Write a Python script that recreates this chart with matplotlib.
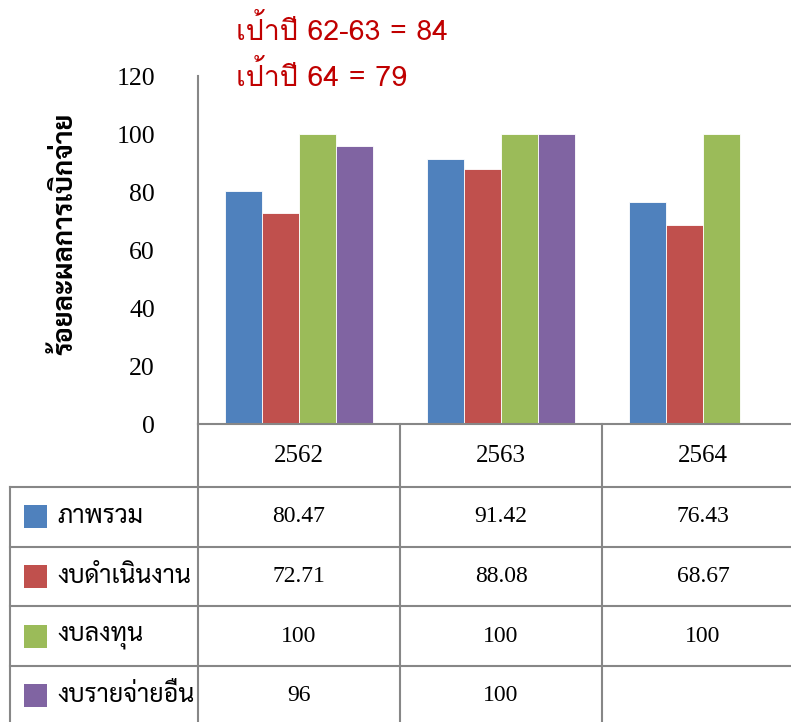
import matplotlib
matplotlib.use("Agg")
import matplotlib.pyplot as plt
from matplotlib import font_manager, ft2font
from matplotlib.patches import Rectangle
import numpy as np

# ข้อมูล
ปี = ["2562", "2563", "2564"]
ชุดข้อมูล = ["ภาพรวม", "งบดำเนินงาน", "งบลงทุน", "งบรายจ่ายอื่น"]
ภาพรวม = [80.47, 91.42, 76.43]
งบดำเนินงาน = [72.71, 88.08, 68.67]
งบลงทุน = [100, 100, 100]
งบรายจ่ายอื่น = [96, 100, None]
สี = ["#4F81BD", "#C0504D", "#9BBB59", "#8064A2"]
ค่าแกนY = [0, 20, 40, 60, 80, 100, 120]
ข้อความเป้า = ["เป้าปี 62-63 = 84", "เป้าปี 64 = 79"]
ชื่อแกนY = "ร้อยละผลการเบิกจ่าย"

ค่าทั้งหมด = [ภาพรวม, งบดำเนินงาน, งบลงทุน, งบรายจ่ายอื่น]


# หาฟอนต์ที่มีอักษรไทย
def มีภาษาไทย(path):
    try:
        return 0x0E01 in ft2font.FT2Font(path).get_charmap()
    except Exception:
        return False


ฟอนต์ไทย = set()
for p in font_manager.findSystemFonts():
    if มีภาษาไทย(p):
        try:
            font_manager.fontManager.addfont(p)
            ฟอนต์ไทย.add(font_manager.FontProperties(fname=p).get_name())
        except Exception:
            pass


def เลือก(ลำดับ):
    for f in ลำดับ:
        if f in ฟอนต์ไทย:
            return f
    return sorted(ฟอนต์ไทย)[0] if ฟอนต์ไทย else "DejaVu Sans"


ไทยเซอริฟ = เลือก(["Norasi", "Kinnari", "TH Sarabun New", "Laksaman", "Sarabun"])
ไทยซานส์ = เลือก(["Waree", "Loma", "Tahoma", "Garuda", "IBM Plex Sans Thai"])

W, H = 791, 722
fig = plt.figure(figsize=(W / 100, H / 100), dpi=100)

# แกนกราฟแท่ง (พิกัดพิกเซล: ซ้าย 198, บน 76, ล่าง 424)
ax_left, ax_top, ax_bot = 198, 76, 424
ax_h = ax_bot - ax_top
col_w = 202
ax = fig.add_axes([ax_left / W, 1 - ax_bot / H, (W - ax_left) / W, ax_h / H])
ax.set_xlim(-0.5, -0.5 + (W - ax_left) / col_w)
ax.set_ylim(0, 120)

x = np.arange(len(ปี))
bw = 0.183
for i, vals in enumerate(ค่าทั้งหมด):
    for j, v in enumerate(vals):
        if v is None:
            continue
        ax.bar(x[j] + (i - 1.5) * bw, v, width=bw, color=สี[i],
               edgecolor="white", linewidth=0.6, zorder=2)

เทา = "#878787"
for s in ["top", "right"]:
    ax.spines[s].set_visible(False)
for s in ["left", "bottom"]:
    ax.spines[s].set_color(เทา)
    ax.spines[s].set_linewidth(1.5)
ax.set_xticks([])
ax.set_yticks(ค่าแกนY)
ax.set_yticklabels([str(v) for v in ค่าแกนY], family="Liberation Serif", fontsize=18.5)
ax.tick_params(axis="y", length=0, pad=31)

fig.text(65 / W, 1 - 234 / H, ชื่อแกนY, rotation=90, ha="center", va="center",
         family=[ไทยเซอริฟ, "DejaVu Sans"], fontsize=19.5, fontweight="bold")

for k, t in enumerate(ข้อความเป้า):
    fig.text(236 / W, 1 - (30 + 47 * k) / H, t, ha="left", va="center",
             family=[ไทยซานส์, "DejaVu Sans"], fontsize=20.5, color="#C00000")

# ตารางข้อมูลใต้กราฟ
tr = ax.get_xaxis_transform()
head_h = 63 / ax_h
row_h = 59.7 / ax_h
left_x = -0.5 + (10 - ax_left) / col_w
bottom_y = -(head_h + row_h * 5)

kw = dict(color=เทา, lw=1.5, transform=tr, clip_on=False)
# เส้นแนวตั้ง
for j in range(len(ปี) + 1):
    ax.plot([j - 0.5, j - 0.5], [0, bottom_y], **kw)
ax.plot([left_x, left_x], [-head_h, bottom_y], **kw)
# เส้นแนวนอน
for r in range(len(ชุดข้อมูล) + 1):
    y = -head_h - r * row_h
    ax.plot([left_x, 3.5], [y, y], **kw)

for j, p in enumerate(ปี):
    ax.text(x[j], -head_h / 2, p, transform=tr, ha="center", va="center",
            family="Liberation Serif", fontsize=18)

sq_x = -0.5 + (24 - ax_left) / col_w
sq_w = 23 / col_w
sq_h = 23 / ax_h
lab_x = -0.5 + (57 - ax_left) / col_w
for i, name in enumerate(ชุดข้อมูล):
    yc = -head_h - (i + 0.5) * row_h
    ax.add_patch(Rectangle((sq_x, yc - sq_h / 2), sq_w, sq_h, facecolor=สี[i],
                           edgecolor="none", transform=tr, clip_on=False))
    ax.text(lab_x, yc, name, transform=tr, ha="left", va="center",
            family=[ไทยเซอริฟ, "DejaVu Sans"], fontsize=18)
    for j, v in enumerate(ค่าทั้งหมด[i]):
        if v is None:
            continue
        ax.text(x[j], yc, f"{v:g}", transform=tr, ha="center", va="center",
                family="Liberation Serif", fontsize=17)

fig.savefig("out.png", dpi=100)
